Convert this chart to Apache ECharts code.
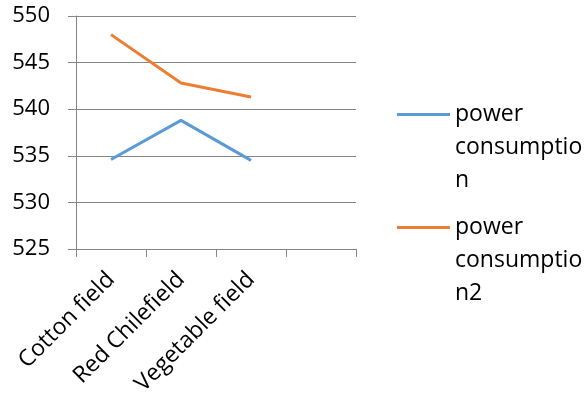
<!DOCTYPE html>
<html>
<head>
<meta charset="utf-8">
<script src="https://cdn.jsdelivr.net/npm/echarts@6/dist/echarts.min.js"></script>
<style>
  html, body { margin: 0; padding: 0; background: #fff; }
  #chart { width: 584px; height: 398px; }
</style>
</head>
<body>
<div id="chart"></div>
<script>
// Field categories (last slot left empty on the axis)
const categories = ['Cotton field', 'Red Chilefield', 'Vegetable field', ''];
const seriesNames = ['power consumption', 'power consumption2'];
const powerConsumption = [534.6, 538.8, 534.5, null];
const powerConsumption2 = [548.0, 542.8, 541.3, null];
const yTicks = { min: 525, max: 550, interval: 5 };

const FONT = '"Open Sans", "Liberation Sans", sans-serif';
const BLUE = '#5B9BD5';
const ORANGE = '#ED7D31';
const GRAY = '#868686';

// Legend names wrapped to the narrow legend column; two leading blank
// lines keep the first text line level with the legend marker.
const legendText = {
  'power consumption': '\n\npower\nconsumptio\nn',
  'power consumption2': '\n\npower\nconsumptio\nn2'
};

function makeLegend(name, top) {
  return {
    data: [name],
    left: 397,
    top: top,
    orient: 'vertical',
    icon: 'rect',
    itemWidth: 53,
    itemHeight: 3,
    itemGap: 0,
    padding: 0,
    selectedMode: false,
    formatter: n => legendText[n],
    textStyle: {
      fontFamily: FONT,
      fontSize: 23,
      color: '#000',
      lineHeight: 33
    }
  };
}

const chart = echarts.init(document.getElementById('chart'), null, { renderer: 'canvas' });
chart.setOption({
  animation: false,
  backgroundColor: '#fff',
  grid: { left: 76, right: 228, top: 16, bottom: 149 },
  legend: [makeLegend(seriesNames[0], 32), makeLegend(seriesNames[1], 145)],
  xAxis: {
    type: 'category',
    data: categories,
    boundaryGap: true,
    axisLine: { lineStyle: { color: GRAY, width: 1 } },
    axisTick: { show: true, length: 8, lineStyle: { color: GRAY } },
    axisLabel: {
      rotate: 45,
      margin: 27,
      fontFamily: FONT,
      fontSize: 23,
      color: '#000',
      interval: 0
    }
  },
  yAxis: {
    type: 'value',
    min: yTicks.min,
    max: yTicks.max,
    interval: yTicks.interval,
    axisLine: { show: true, lineStyle: { color: GRAY, width: 1 } },
    axisTick: { show: true, length: 8, lineStyle: { color: GRAY } },
    splitLine: { lineStyle: { color: GRAY, width: 1 } },
    axisLabel: {
      margin: 26,
      fontFamily: FONT,
      fontSize: 22,
      color: '#000'
    }
  },
  series: [
    {
      name: seriesNames[0],
      type: 'line',
      data: powerConsumption,
      symbol: 'none',
      lineStyle: { color: BLUE, width: 3 },
      itemStyle: { color: BLUE }
    },
    {
      name: seriesNames[1],
      type: 'line',
      data: powerConsumption2,
      symbol: 'none',
      lineStyle: { color: ORANGE, width: 3 },
      itemStyle: { color: ORANGE }
    }
  ]
});
</script>
</body>
</html>
